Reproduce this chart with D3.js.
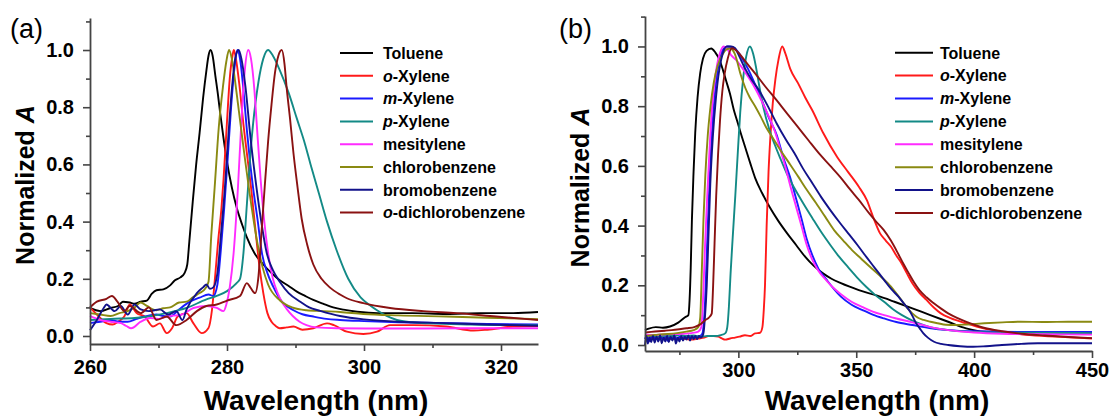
<!DOCTYPE html>
<html>
<head>
<meta charset="utf-8">
<script src="https://cdnjs.cloudflare.com/ajax/libs/d3/7.8.5/d3.min.js"></script>
<style>
  body { margin: 0; background: #fff; }
  svg text { font-family: "Liberation Sans", Arial, Helvetica, sans-serif; }
</style>
</head>
<body>
<svg id="chart" width="1113" height="417"></svg>
<script>
// ---- series names (legend) and colours ----
const solvents = [
  {pre: "", name: "Toluene"},
  {pre: "o", name: "-Xylene"},
  {pre: "m", name: "-Xylene"},
  {pre: "p", name: "-Xylene"},
  {pre: "", name: "mesitylene"},
  {pre: "", name: "chlorobenzene"},
  {pre: "", name: "bromobenzene"},
  {pre: "o", name: "-dichlorobenzene"}
];
const solventColors = ["#000000", "#ff1a1a", "#1a1aff", "#138a86", "#ff2bff", "#8a8a12", "#12128a", "#8a1212"];

// ---- axis ticks ----
const yTicks = [0.0, 0.2, 0.4, 0.6, 0.8, 1.0];
const yMinorTicks = [0.1, 0.3, 0.5, 0.7, 0.9, 1.1];
const xTicksA = [260, 280, 300, 320];
const xMinorTicksA = [270, 290, 310];
const xTicksB = [300, 350, 400, 450];
const xMinorTicksB = [275, 325, 375, 425];

// ---- (a) spectra: [wavelength nm, normalized A] ----
const tolueneA = [[260,0.098],[261.5,0.087],[263,0.098],[264.1,0.105],[264.8,0.12],[265.8,0.117],[266.5,0.113],[267.4,0.12],[268.3,0.124],[269,0.147],[269.7,0.16],[270.7,0.163],[271.7,0.177],[272.4,0.195],[273.2,0.205],[273.8,0.22],[274.2,0.25],[274.5,0.33],[275,0.47],[275.5,0.6],[276,0.71],[276.5,0.83],[277,0.93],[277.3,0.98],[277.6,1.0],[277.9,0.98],[278.3,0.91],[278.7,0.84],[279,0.78],[279.5,0.69],[280,0.61],[280.7,0.52],[281.4,0.45],[282.2,0.39],[282.9,0.345],[284,0.29],[285.3,0.25],[286.5,0.22],[287.7,0.195],[289,0.175],[290.2,0.155],[291.4,0.14],[292.6,0.126],[294,0.113],[295.5,0.1],[297,0.092],[299,0.085],[302,0.08],[307,0.08],[312,0.077],[317,0.08],[321.8,0.08],[325.4,0.084]];
const oXyleneA = [[260,0.1],[261,0.075],[262.4,0.045],[263.3,0.04],[264.1,0.05],[265,0.068],[265.8,0.11],[266.8,0.08],[268,0.068],[269.2,0.033],[270.2,0.044],[271.2,0.01],[272,0.028],[272.8,0.068],[274.1,0.08],[275.1,0.044],[276.3,0.01],[277.3,0.028],[277.8,0.09],[278.2,0.19],[278.7,0.33],[279.2,0.45],[279.5,0.55],[280,0.75],[280.4,0.9],[280.8,0.98],[281,1.0],[281.3,0.97],[281.8,0.88],[282.4,0.74],[283,0.62],[283.6,0.5],[284.2,0.36],[284.8,0.23],[285.3,0.15],[285.9,0.08],[286.5,0.05],[287.1,0.035],[287.7,0.027],[288.7,0.03],[289.7,0.033],[291,0.022],[292.6,0.027],[294.6,0.044],[295.6,0.038],[297.5,0.015],[299.9,0.007],[301.9,0.015],[303.8,0.038],[307.2,0.038],[312,0.033],[316,0.019],[318,0.022],[321.8,0.033],[325.4,0.035]];
const mXyleneA = [[260,0.045],[261.5,0.05],[263,0.056],[264.3,0.05],[265.5,0.05],[266.8,0.06],[268,0.068],[269.7,0.075],[270.7,0.07],[271.7,0.068],[273,0.093],[274.6,0.12],[276,0.134],[277.3,0.145],[278,0.14],[278.6,0.18],[279.1,0.3],[279.6,0.45],[280.1,0.62],[280.6,0.8],[281.1,0.94],[281.5,1.0],[281.9,0.97],[282.4,0.86],[282.9,0.72],[283.4,0.6],[283.8,0.52],[284.5,0.4],[285.1,0.29],[285.9,0.22],[286.8,0.17],[288,0.12],[289.7,0.09],[291,0.076],[292.6,0.068],[294.5,0.06],[296.5,0.056],[300,0.052],[305,0.048],[312,0.045],[318,0.042],[325.4,0.04]];
const pXyleneA = [[260,0.056],[263,0.06],[266.5,0.063],[269,0.07],[271.2,0.08],[274.1,0.098],[277,0.128],[278.5,0.14],[280,0.157],[281.4,0.185],[281.9,0.2],[282.4,0.29],[282.9,0.46],[283.6,0.69],[284.6,0.89],[285.3,0.97],[286,1.0],[286.7,0.98],[287.7,0.93],[289,0.85],[290.2,0.76],[291.4,0.67],[292.2,0.6],[293.4,0.5],[294.6,0.4],[296,0.3],[297.7,0.2],[299.5,0.135],[301,0.105],[301.9,0.09],[303.3,0.07],[304.8,0.056],[307,0.048],[309.6,0.044],[315,0.04],[320,0.038],[325.4,0.038]];
const mesityleneA = [[260,0.07],[261.5,0.056],[263,0.05],[264.5,0.045],[265.3,0.035],[266,0.027],[267.4,0.05],[268.8,0.063],[270,0.06],[271.2,0.068],[273.4,0.075],[275.1,0.098],[277,0.105],[278.5,0.098],[279.5,0.087],[279.9,0.11],[280.4,0.17],[281,0.3],[281.6,0.52],[282.1,0.75],[282.6,0.93],[283.1,1.0],[283.5,0.97],[284,0.86],[284.4,0.72],[284.9,0.55],[285.4,0.41],[286,0.29],[286.7,0.2],[287.4,0.15],[288,0.12],[288.7,0.095],[289.6,0.07],[290.6,0.05],[291.6,0.038],[293,0.03],[296,0.027],[305,0.026],[315,0.027],[325.4,0.027]];
const chlorobenzeneA = [[260,0.08],[261.5,0.075],[263,0.07],[264.3,0.08],[265.5,0.087],[266.5,0.1],[267.4,0.117],[268.3,0.105],[269.7,0.09],[270.7,0.097],[271.7,0.1],[273,0.117],[274.1,0.12],[275,0.135],[276,0.15],[276.8,0.165],[277.3,0.19],[277.7,0.35],[278.2,0.52],[278.8,0.73],[279.4,0.87],[279.9,0.96],[280.3,1.0],[280.7,0.97],[281.4,0.85],[282.4,0.66],[283.6,0.45],[284.4,0.33],[285.2,0.24],[286,0.18],[287.7,0.125],[289.5,0.1],[291.6,0.09],[294,0.087],[296.5,0.084],[299.9,0.077],[305,0.072],[312,0.068],[318,0.064],[325.4,0.059]];
const bromobenzeneA = [[260,0.02],[261,0.056],[262,0.098],[262.4,0.11],[263.6,0.087],[264.5,0.105],[265.5,0.075],[266.5,0.11],[267.4,0.093],[268.6,0.087],[270.2,0.093],[271.4,0.075],[272.6,0.087],[273.5,0.056],[274.1,0.093],[275.6,0.15],[276.5,0.17],[277,0.18],[277.5,0.165],[278,0.17],[278.6,0.22],[279.1,0.35],[279.7,0.52],[280.2,0.7],[280.7,0.86],[281.2,0.97],[281.7,1.0],[282.1,0.97],[282.7,0.87],[283.4,0.7],[284.3,0.52],[285,0.4],[285.8,0.29],[286.7,0.23],[287.7,0.19],[289,0.15],[290.7,0.12],[292,0.1],[293.6,0.088],[296.5,0.07],[300,0.058],[305,0.05],[312,0.045],[318,0.04],[325.4,0.036]];
const oDichloroA = [[260,0.1],[261,0.12],[262.4,0.13],[263.2,0.14],[264,0.12],[265,0.087],[265.8,0.105],[267.4,0.08],[268.6,0.1],[269.7,0.056],[271.2,0.068],[272.6,0.038],[274.1,0.056],[275.6,0.087],[277,0.105],[278.5,0.11],[280,0.124],[281.9,0.14],[282.9,0.185],[283.4,0.17],[284.1,0.15],[284.6,0.21],[285,0.35],[285.5,0.52],[286,0.68],[286.5,0.81],[287,0.92],[287.5,0.98],[288,1.0],[288.4,0.95],[288.7,0.87],[289.2,0.76],[289.7,0.64],[290.3,0.52],[290.9,0.41],[291.7,0.32],[292.6,0.25],[293.8,0.2],[295,0.17],[296.5,0.145],[297.5,0.132],[299.9,0.115],[303.8,0.098],[308.7,0.087],[313.5,0.08],[319.3,0.068],[325.4,0.056]];

// ---- (b) spectra: [wavelength nm, normalized A] ----
const tolueneB = [[260.4,0.05],[262,0.055],[265,0.06],[268,0.058],[271,0.062],[274.5,0.075],[277.4,0.093],[278.8,0.1],[279.3,0.15],[279.8,0.26],[280.3,0.42],[281,0.58],[281.7,0.71],[282.7,0.83],[283.8,0.91],[285,0.96],[286.5,0.985],[288.5,0.993],[290.2,0.98],[292,0.955],[293.5,0.92],[295,0.88],[296.5,0.84],[298,0.79],[299.5,0.75],[301,0.71],[303,0.66],[305,0.61],[307.1,0.56],[310,0.51],[313.2,0.463],[317,0.415],[320.7,0.374],[324.5,0.335],[328.3,0.296],[332,0.265],[335.9,0.24],[339.5,0.222],[343.5,0.207],[351.1,0.184],[358.6,0.166],[366.2,0.145],[373.8,0.123],[381.4,0.1],[389,0.078],[396.6,0.056],[404.2,0.045],[420,0.043],[450,0.043]];
const oXyleneB = [[260.4,0.025],[264,0.022],[268,0.024],[272,0.02],[276,0.022],[280,0.018],[283,0.022],[285.5,0.025],[287.3,0.03],[289.5,0.03],[291.5,0.028],[293,0.022],[294.4,0.018],[296.5,0.022],[298.6,0.025],[300.5,0.028],[302.8,0.033],[305,0.03],[307.1,0.039],[309.2,0.041],[310.2,0.06],[310.8,0.12],[311.3,0.2],[312,0.4],[312.8,0.58],[313.6,0.7],[314.6,0.81],[315.7,0.89],[317,0.955],[318.6,1.0],[320,0.975],[322,0.925],[325.3,0.877],[328.3,0.83],[331.3,0.787],[336,0.71],[341.9,0.63],[346.5,0.58],[351.1,0.53],[354.5,0.485],[357.1,0.43],[360.1,0.374],[362.5,0.35],[364.7,0.33],[367,0.3],[369.2,0.274],[371.5,0.24],[373.8,0.207],[376.8,0.175],[379.8,0.151],[383,0.125],[385.9,0.106],[390,0.09],[396.5,0.073],[404,0.056],[411.7,0.045],[420,0.036],[430,0.03],[440,0.026],[450,0.022]];
const mXyleneB = [[260.4,0.02],[261.2,0.035],[262,0.012],[263,0.03],[264,0.018],[265,0.032],[266,0.015],[267,0.03],[268,0.02],[269,0.028],[270,0.014],[271,0.03],[272,0.02],[273,0.032],[274,0.018],[275,0.028],[276,0.02],[277,0.03],[278,0.022],[279,0.03],[280,0.024],[281,0.03],[282,0.026],[283,0.03],[284,0.032],[284.8,0.04],[285.3,0.07],[285.9,0.15],[286.6,0.3],[287.3,0.46],[288.3,0.64],[289.4,0.78],[290.4,0.87],[291.5,0.935],[292.7,0.975],[294,0.995],[295.5,1.0],[297.5,0.998],[299.5,0.985],[302,0.955],[304.1,0.925],[307,0.875],[310.2,0.815],[313,0.76],[316.2,0.705],[319,0.63],[322.3,0.553],[324.5,0.49],[326.9,0.42],[329,0.355],[331.4,0.3],[334,0.255],[337.5,0.218],[340.5,0.188],[343.5,0.162],[348,0.135],[352.7,0.117],[357,0.102],[361.8,0.089],[367,0.077],[373.8,0.067],[381,0.057],[389,0.05],[400,0.046],[420,0.044],[450,0.044]];
const pXyleneB = [[260.4,0.03],[263,0.033],[266,0.028],[269,0.032],[272,0.03],[275,0.034],[278,0.03],[281,0.032],[284,0.028],[287,0.03],[290,0.03],[292.5,0.033],[294.5,0.04],[295.3,0.06],[296,0.13],[296.7,0.24],[297.6,0.36],[298.7,0.5],[299.8,0.65],[300.8,0.78],[302,0.89],[303.3,0.965],[304.9,1.0],[306.3,0.975],[307.5,0.93],[308.7,0.875],[310.5,0.8],[313.2,0.72],[315.5,0.67],[317.8,0.625],[320.5,0.575],[323.8,0.525],[327.5,0.475],[331.4,0.425],[335,0.38],[339,0.335],[342.8,0.295],[346.6,0.26],[350.5,0.225],[354.2,0.195],[358,0.168],[361.8,0.145],[365.6,0.12],[369.4,0.1],[373.8,0.082],[377.5,0.07],[381.4,0.06],[389,0.05],[400,0.044],[420,0.041],[450,0.04]];
const mesityleneB = [[260.4,0.035],[265,0.034],[270,0.036],[275,0.037],[280,0.04],[283,0.045],[284.3,0.06],[285,0.15],[285.9,0.34],[286.8,0.5],[287.8,0.66],[288.8,0.79],[289.9,0.88],[291,0.94],[292.3,0.98],[293.6,1.0],[295,0.995],[297,0.97],[299,0.955],[301,0.935],[304,0.9],[307.1,0.86],[310,0.815],[313.2,0.76],[315.5,0.715],[317.8,0.655],[320,0.595],[322.3,0.525],[324.6,0.46],[326.9,0.395],[329,0.335],[331.4,0.285],[334,0.248],[337.5,0.215],[340.5,0.19],[343.5,0.17],[348,0.145],[352.7,0.127],[357,0.112],[361.8,0.1],[367,0.089],[373.8,0.076],[381,0.061],[389,0.05],[400,0.042],[411.8,0.038],[430,0.036],[450,0.035]];
const chlorobenzeneB = [[260.4,0.03],[263,0.032],[266,0.035],[270,0.037],[274,0.04],[278,0.045],[281,0.05],[283,0.06],[283.8,0.09],[284.5,0.25],[285.2,0.42],[286,0.57],[287,0.7],[288.2,0.8],[289.6,0.88],[291.2,0.935],[293.4,0.975],[295,0.99],[296.5,0.993],[298.5,0.975],[301,0.905],[303,0.86],[304.8,0.83],[307.1,0.8],[309.5,0.765],[311.7,0.73],[314.5,0.695],[317.8,0.653],[321.5,0.61],[325.4,0.564],[329,0.52],[333,0.475],[336.8,0.43],[340.6,0.385],[344.5,0.35],[348.2,0.318],[352,0.29],[355.8,0.262],[359.6,0.235],[363.4,0.207],[366.5,0.178],[369.4,0.148],[371.5,0.125],[373.8,0.106],[376,0.092],[378.6,0.084],[381.5,0.078],[384.6,0.073],[388,0.068],[392.2,0.067],[397,0.069],[404.4,0.073],[412,0.076],[419.6,0.078],[430,0.077],[440,0.078],[450,0.078]];
const bromobenzeneB = [[260.4,0.0],[261,0.03],[261.6,0.005],[262.3,0.025],[263,0.01],[263.8,0.03],[264.5,0.008],[265.3,0.028],[266,0.012],[266.8,0.032],[267.5,0.006],[268.3,0.025],[269,0.012],[269.8,0.03],[270.5,0.01],[271.3,0.028],[272,0.015],[272.8,0.032],[273.5,0.005],[274.3,0.025],[275,0.012],[275.8,0.03],[276.5,0.015],[277.3,0.028],[278,0.018],[278.8,0.032],[279.5,0.015],[280.3,0.03],[281,0.02],[281.8,0.03],[282.5,0.02],[283.3,0.03],[284,0.025],[284.8,0.03],[285.3,0.045],[285.8,0.09],[286.6,0.2],[287.3,0.36],[288.1,0.54],[289.2,0.7],[290.4,0.82],[291.5,0.9],[292.7,0.955],[294,0.99],[295,1.0],[297,1.0],[298.5,0.995],[300.5,0.965],[302.6,0.93],[305.5,0.89],[308.7,0.854],[312.5,0.8],[316.2,0.743],[320,0.69],[323.8,0.642],[327.5,0.59],[331.4,0.542],[335,0.497],[339,0.452],[342.8,0.412],[346.6,0.374],[350.5,0.335],[354.2,0.296],[358,0.257],[361.8,0.218],[365,0.186],[367.9,0.162],[370.3,0.138],[372.4,0.117],[374,0.095],[375.4,0.073],[377,0.055],[378.4,0.04],[380.5,0.024],[383,0.011],[386,0.004],[389,0.0],[394,-0.004],[399.6,-0.006],[405,-0.004],[411.8,0.0],[420,0.004],[427,0.006],[440,0.006],[450,0.006]];
const oDichloroB = [[260.4,0.042],[263,0.044],[266,0.046],[269,0.048],[271.7,0.05],[275,0.053],[278,0.056],[281.6,0.061],[284,0.07],[285.9,0.083],[287.5,0.092],[288.7,0.105],[289.3,0.2],[289.9,0.34],[290.6,0.5],[291.4,0.64],[292.2,0.75],[293.2,0.85],[294.2,0.91],[295.5,0.96],[297.2,0.994],[298.5,0.99],[300.5,0.975],[303,0.95],[305,0.93],[307.1,0.91],[311.5,0.865],[316.2,0.82],[320.7,0.775],[325.3,0.73],[329.8,0.685],[334.4,0.64],[339,0.6],[343.5,0.56],[347.3,0.522],[351.1,0.486],[355.6,0.44],[358.6,0.412],[361.7,0.385],[364.7,0.35],[367.7,0.307],[370,0.272],[372.3,0.24],[374.5,0.21],[376.8,0.184],[379.8,0.16],[382.9,0.14],[386,0.122],[389,0.106],[393,0.09],[397,0.077],[404.1,0.058],[412,0.046],[420,0.038],[430,0.032],[440,0.027],[450,0.023]];

const spectraA = [tolueneA, oXyleneA, mXyleneA, pXyleneA, mesityleneA, chlorobenzeneA, bromobenzeneA, oDichloroA];
const spectraB = [tolueneB, oXyleneB, mXyleneB, pXyleneB, mesityleneB, chlorobenzeneB, bromobenzeneB, oDichloroB];

// ---- panel layout ----
const panels = [
  {
    tag: "(a)", tagX: 10, spectra: spectraA,
    xDomain: [260, 325.4], xRange: [90, 538],
    yDomain: [-0.028, 1.112], yRange: [344, 18],
    xTicks: xTicksA, xMinor: xMinorTicksA, xPad: 9,
    titleX: 316, titleY: 410, yTitleX: 34,
    legend: {x1: 340, x2: 373, tx: 383, y0: 53, dy: 22.8}
  },
  {
    tag: "(b)", tagX: 559, spectra: spectraB,
    xDomain: [260.4, 450], xRange: [645, 1092],
    yDomain: [-0.02, 1.102], yRange: [351, 16],
    xTicks: xTicksB, xMinor: xMinorTicksB, xPad: 5,
    titleX: 877, titleY: 410, yTitleX: 589,
    legend: {x1: 895, x2: 933, tx: 940, y0: 52.7, dy: 22.9}
  }
];

const svg = d3.select("#chart");
const axisColor = "#444444";

panels.forEach(p => {
  const x = d3.scaleLinear().domain(p.xDomain).range(p.xRange);
  const y = d3.scaleLinear().domain(p.yDomain).range(p.yRange);
  const g = svg.append("g");

  // spectra
  const line = d3.line()
    .x(d => x(d[0]))
    .y(d => y(d[1]))
    .curve(d3.curveMonotoneX);
  p.spectra.forEach((s, i) => {
    g.append("path")
      .datum(s)
      .attr("d", line)
      .attr("fill", "none")
      .attr("stroke", solventColors[i])
      .attr("stroke-width", 1.9)
      .attr("stroke-linejoin", "round");
  });

  // y axis (major + minor)
  g.append("g")
    .attr("transform", `translate(${p.xRange[0]},0)`)
    .call(d3.axisLeft(y).tickValues(yTicks).tickFormat(d3.format(".1f"))
      .tickSize(7).tickSizeOuter(0).tickPadding(9));
  g.append("g")
    .attr("transform", `translate(${p.xRange[0]},0)`)
    .call(d3.axisLeft(y).tickValues(yMinorTicks).tickFormat("").tickSize(4).tickSizeOuter(0))
    .call(a => a.select(".domain").remove());

  // x axis (major + minor)
  g.append("g")
    .attr("transform", `translate(0,${p.yRange[0]})`)
    .call(d3.axisBottom(x).tickValues(p.xTicks).tickFormat(d3.format("d"))
      .tickSize(7).tickSizeOuter(0).tickPadding(p.xPad));
  g.append("g")
    .attr("transform", `translate(0,${p.yRange[0]})`)
    .call(d3.axisBottom(x).tickValues(p.xMinor).tickFormat("").tickSize(4).tickSizeOuter(0))
    .call(a => a.select(".domain").remove());

  g.selectAll(".domain").attr("stroke", axisColor).attr("stroke-width", 1.8);
  g.selectAll(".tick line").attr("stroke", axisColor).attr("stroke-width", 1.6);
  g.selectAll(".tick text")
    .attr("fill", "#000")
    .style("font-size", "20px")
    .style("font-weight", "bold");

  // axis titles
  g.append("text")
    .attr("x", p.titleX).attr("y", p.titleY)
    .attr("text-anchor", "middle")
    .style("font-size", "28px").style("font-weight", "bold")
    .text("Wavelength (nm)");

  const yTitle = g.append("text")
    .attr("transform", `translate(${p.yTitleX},${(p.yRange[0] + p.yRange[1]) / 2 + 4}) rotate(-90)`)
    .attr("text-anchor", "middle")
    .style("font-size", "25px").style("font-weight", "bold");
  yTitle.append("tspan").text("Normalized ");
  yTitle.append("tspan").style("font-style", "italic").text("A");

  // panel tag
  g.append("text")
    .attr("x", p.tagX).attr("y", 37.5)
    .style("font-size", "27px")
    .text(p.tag);

  // legend
  const L = p.legend;
  solvents.forEach((s, i) => {
    const cy = L.y0 + i * L.dy;
    g.append("line")
      .attr("x1", L.x1).attr("x2", L.x2)
      .attr("y1", cy).attr("y2", cy)
      .attr("stroke", solventColors[i]).attr("stroke-width", 2);
    const t = g.append("text")
      .attr("x", L.tx).attr("y", cy + 5.8)
      .style("font-size", "16px").style("font-weight", "bold");
    if (s.pre) t.append("tspan").style("font-style", "italic").text(s.pre);
    t.append("tspan").text(s.name);
  });
});
</script>
</body>
</html>
